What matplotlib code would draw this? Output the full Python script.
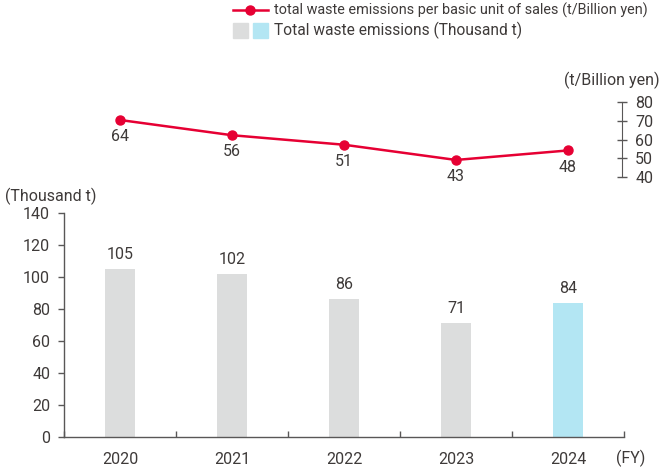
import matplotlib
matplotlib.use("Agg")
import matplotlib.pyplot as plt
from matplotlib.lines import Line2D
from matplotlib.patches import Rectangle

plt.rcParams['font.family'] = ['Roboto', 'DejaVu Sans']

years = ["2020", "2021", "2022", "2023", "2024"]
waste_total = [105, 102, 86, 71, 84]          # Thousand t
waste_per_sales = [64, 56, 51, 43, 48]        # t/Billion yen
bar_colors = ["#dcdddd", "#dcdddd", "#dcdddd", "#dcdddd", "#b3e6f3"]
left_ticks = [0, 20, 40, 60, 80, 100, 120, 140]
right_ticks = [40, 50, 60, 70, 80]

TXT = "#3e3a39"
AX = "#595757"
RED = "#e60033"
W, H = 660, 470
FS = 11.5

fig = plt.figure(figsize=(6.6, 4.7), dpi=100)

def fr(x0, y0, x1, y1):
    return [x0 / W, 1 - y1 / H, (x1 - x0) / W, (y1 - y0) / H]

# ---- bar axes ----
ax = fig.add_axes(fr(64, 213, 624, 437))
x = list(range(len(years)))
ax.bar(x, waste_total, width=0.27, color=bar_colors, zorder=2)
for xi, v in zip(x, waste_total):
    ax.annotate(str(v), (xi, v), xytext=(0, 10.5), textcoords="offset points",
                ha="center", va="center", fontsize=FS, color=TXT)
ax.set_xlim(-0.5, 4.5)
ax.set_ylim(0, 140)
ax.set_yticks(left_ticks)
ax.set_xticks(x)
ax.set_xticklabels(years)
ax.set_xticks([i + 0.5 for i in range(-1, 5)], minor=True)
ax.tick_params(axis="x", which="major", length=0, pad=11, labelsize=FS, labelcolor=TXT)
ax.tick_params(axis="x", which="minor", direction="in", length=4, color=AX, width=1)
ax.tick_params(axis="y", direction="out", length=4, color=AX, width=1,
               labelsize=FS, labelcolor=TXT, pad=6)
for s in ["top", "right"]:
    ax.spines[s].set_visible(False)
for s in ["left", "bottom"]:
    ax.spines[s].set_color(AX)
    ax.spines[s].set_linewidth(1)
fig.text(5 / W, 1 - 196 / H, "(Thousand t)", fontsize=FS, color=TXT, ha="left", va="center")
fig.text(631 / W, 1 - 458 / H, "(FY)", fontsize=FS, color=TXT, ha="center", va="center")

# ---- line axes ----
lax = fig.add_axes(fr(64, 102.3, 624, 176.7))
lax.plot(x, waste_per_sales, color=RED, lw=1.8, marker="o", ms=6.5, zorder=3)
for xi, v in zip(x, waste_per_sales):
    lax.annotate(str(v), (xi, v), xytext=(0, -12), textcoords="offset points",
                 ha="center", va="center", fontsize=FS, color=TXT)
lax.set_xlim(-0.5, 4.5)
lax.set_ylim(34.2, 73.3)
lax.axis("off")

# right scale
sax = fig.add_axes(fr(64, 102.3, 622, 176.7))
sax.patch.set_visible(False)
sax.set_ylim(40, 80)
sax.set_xticks([])
sax.yaxis.tick_right()
sax.set_yticks(right_ticks)
sax.tick_params(axis="y", direction="inout", length=7, color=AX, width=1,
                labelsize=FS, labelcolor=TXT, pad=6)
for s in ["top", "left", "bottom"]:
    sax.spines[s].set_visible(False)
sax.spines["right"].set_color(AX)
fig.text(612 / W, 1 - 80 / H, "(t/Billion yen)", fontsize=FS, color=TXT, ha="center", va="center")

# ---- legend ----
fig.add_artist(Line2D([233 / W, 268 / W], [1 - 10 / H, 1 - 10 / H], color=RED, lw=1.8))
fig.add_artist(Line2D([250.5 / W], [1 - 10 / H], color=RED, marker="o", ms=6.5))
fig.text(274 / W, 1 - 10 / H, "total waste emissions per basic unit of sales (t/Billion yen)",
         fontsize=10.4, color=TXT, ha="left", va="center")
fig.add_artist(Rectangle((233 / W, 1 - 38 / H), 15 / W, 15 / H, color="#dcdddd",
                         transform=fig.transFigure))
fig.add_artist(Rectangle((253 / W, 1 - 38 / H), 15 / W, 15 / H, color="#b3e6f3",
                         transform=fig.transFigure))
fig.text(274 / W, 1 - 30.5 / H, "Total waste emissions (Thousand t)",
         fontsize=11.2, color=TXT, ha="left", va="center")

fig.savefig("out.png", dpi=100)
